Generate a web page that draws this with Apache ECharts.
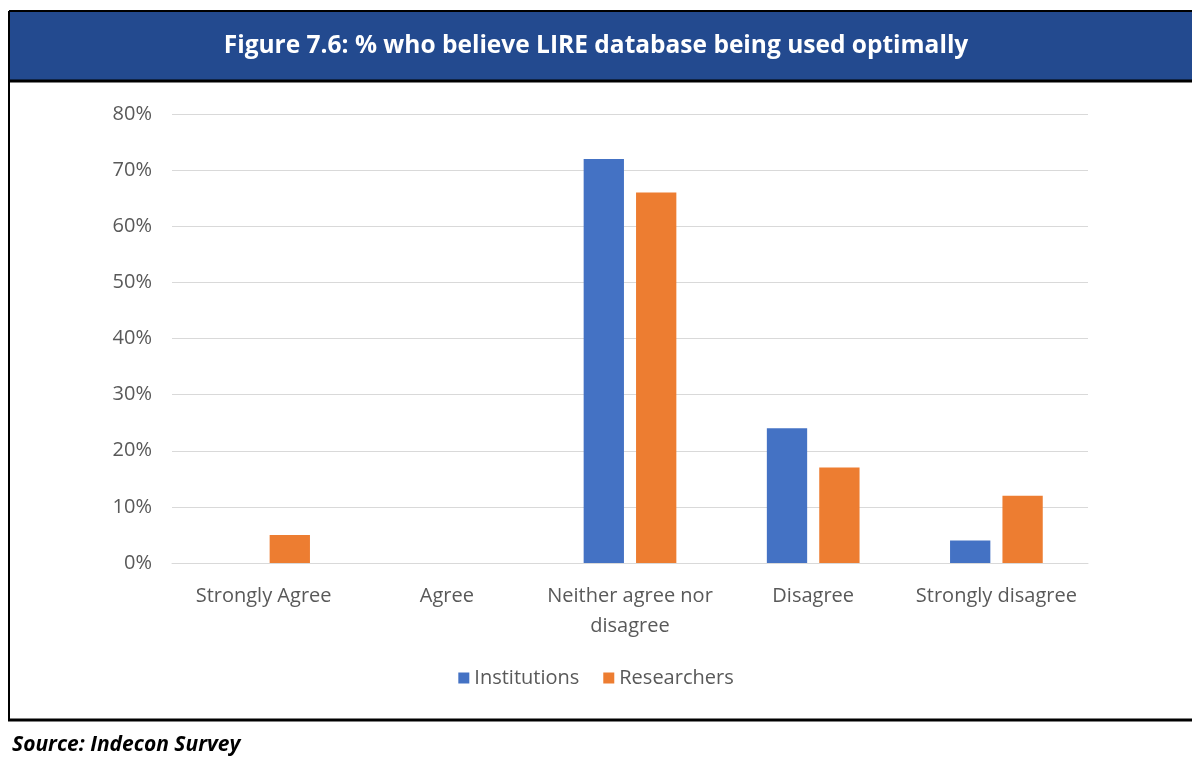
<!DOCTYPE html>
<html>
<head>
<meta charset="utf-8">
<script src="https://cdn.jsdelivr.net/npm/echarts@6/dist/echarts.min.js"></script>
<style>
  html, body { margin: 0; padding: 0; background: #fff; }
  #chart { width: 1192px; height: 758px; }
</style>
</head>
<body>
<div id="chart"></div>
<script>
// Survey responses by group (% of respondents)
const categories = ['Strongly Agree', 'Agree', 'Neither agree nor\ndisagree', 'Disagree', 'Strongly disagree'];
const institutions = [0, 0, 72, 24, 4];
const researchers = [5, 0, 66, 17, 12];
const seriesNames = ['Institutions', 'Researchers'];
const titleText = 'Figure 7.6: % who believe LIRE database being used optimally';
const sourceText = 'Source: Indecon Survey';

const chart = echarts.init(document.getElementById('chart'), null, { renderer: 'canvas' });

const axisFont = 'Open Sans, DejaVu Sans, sans-serif';

chart.setOption({
  backgroundColor: '#ffffff',
  animation: false,
  color: ['#4472c4', '#ed7d31'],
  graphic: [
    // header band
    { type: 'rect', shape: { x: 9, y: 11, width: 1183, height: 69 }, style: { fill: '#234a8f' }, z: 0 },
    { type: 'line', shape: { x1: 9, y1: 11, x2: 1192, y2: 11 }, style: { stroke: '#000', lineWidth: 2 } },
    { type: 'line', shape: { x1: 9, y1: 81, x2: 1192, y2: 81 }, style: { stroke: '#000', lineWidth: 3 } },
    // left frame edge
    { type: 'line', shape: { x1: 9, y1: 11, x2: 9, y2: 720 }, style: { stroke: '#000', lineWidth: 2 } },
    // footer rule
    { type: 'line', shape: { x1: 8, y1: 720, x2: 1192, y2: 720 }, style: { stroke: '#000', lineWidth: 3 } },
    {
      type: 'text', left: 'center', top: 34, z: 10,
      style: { text: titleText, fill: '#ffffff', font: 'bold 24.5px "Open Sans", sans-serif' }
    },
    {
      type: 'text', left: 12, top: 735, z: 10,
      style: { text: sourceText, fill: '#000000', font: 'italic bold 21px "Open Sans", sans-serif' }
    }
  ],
  grid: { left: 172, right: 104, top: 114, bottom: 195, containLabel: false },
  legend: {
    data: seriesNames,
    bottom: 65,
    left: 'center',
    itemWidth: 11,
    itemHeight: 11,
    itemGap: 24,
    icon: 'rect',
    textStyle: { color: '#595959', fontSize: 20, fontFamily: axisFont }
  },
  xAxis: {
    type: 'category',
    data: categories,
    axisLine: { lineStyle: { color: '#d9d9d9', width: 1 } },
    axisTick: { show: false },
    axisLabel: {
      color: '#595959', fontSize: 20, fontFamily: axisFont,
      margin: 18, lineHeight: 30, interval: 0
    }
  },
  yAxis: {
    type: 'value',
    min: 0, max: 80, interval: 10,
    axisLine: { show: false },
    axisTick: { show: false },
    axisLabel: {
      color: '#595959', fontSize: 20, fontFamily: axisFont, margin: 20,
      formatter: v => v + '%'
    },
    splitLine: { lineStyle: { color: '#d9d9d9', width: 1 } }
  },
  series: [
    { name: seriesNames[0], type: 'bar', data: institutions, barWidth: '22%', barGap: '30%' },
    { name: seriesNames[1], type: 'bar', data: researchers, barWidth: '22%', barGap: '30%' }
  ]
});
</script>
</body>
</html>
